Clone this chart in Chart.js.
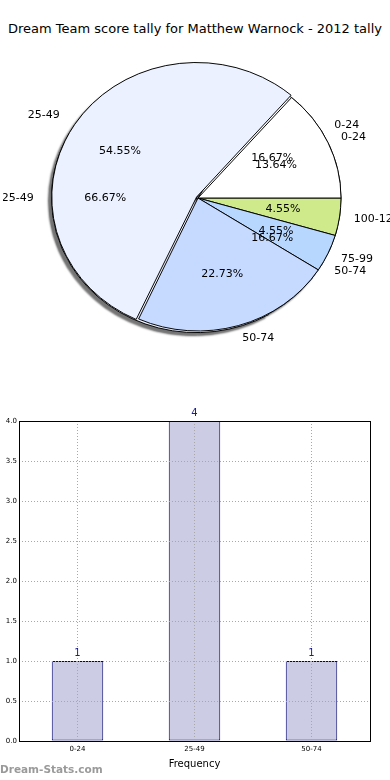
<!DOCTYPE html>
<html>
<head>
<meta charset="utf-8">
<script src="https://cdn.jsdelivr.net/npm/chart.js@4/dist/chart.umd.min.js"></script>
<style>
  body { margin: 0; background: #fff; }
  #wrap { position: relative; width: 390px; height: 780px; font-family: "DejaVu Sans", sans-serif; overflow: hidden; }
  #title { position: absolute; top: 21px; left: 0; width: 390px; text-align: center; font-size: 13px; color: #000; }
  canvas { position: absolute; left: 0; }
  #mark { position: absolute; left: 0; top: 763px; font-size: 10.5px; font-weight: bold; color: #9a9a9a; }
</style>
</head>
<body>
<div id="wrap">
  <div id="title">Dream Team score tally for Matthew Warnock - 2012 tally</div>
  <canvas id="pieBack" width="390" height="304" style="top:46px;left:3px"></canvas>
  <canvas id="pieFront" width="390" height="304" style="top:46px;left:3px"></canvas>
  <canvas id="bars" width="390" height="370" style="top:400px"></canvas>
  <div id="mark">Dream-Stats.com</div>
</div>
<script>
const FONT = '"DejaVu Sans", sans-serif';
const SQUASH = 0.93; // the reference pie is a bit wider than tall

// all scores for the season, grouped
const scoreBands = ['0-24', '25-49', '50-74', '75-99', '100-124'];
const scoreCounts = [3, 12, 5, 1, 1];
const scoreColors = ['#ffffff', '#ebf1ff', '#c6d9ff', '#b8d7ff', '#cfea8a'];
const scoreExplode = [0, 7, 0, 0, 0];

// 2012 tally
const tallyBands = ['0-24', '25-49', '50-74'];
const tallyCounts = [1, 4, 1];
const tallyColors = ['#ffffff', '#ebf1ff', '#c6d9ff'];
const tallyExplode = [0, 7, 0];

// bar chart
const barCategories = ['0-24', '25-49', '50-74'];
const frequency = [1, 4, 1];
const yTicks = [0, 0.5, 1, 1.5, 2, 2.5, 3, 3.5, 4];

// matplotlib goes counter-clockwise from 3 o'clock, chart.js clockwise -> reverse
const rev = a => a.slice().reverse();

function drawPieLabels(ctx, chart) {
  const meta = chart.getDatasetMeta(0);
  const ds = chart.data.datasets[0];
  const total = ds.data.reduce((a, b) => a + b, 0);
  ctx.save();
  ctx.font = '11px ' + FONT;
  ctx.fillStyle = '#000';
  ctx.textBaseline = 'middle';
  meta.data.forEach((arc, i) => {
    const mid = (arc.startAngle + arc.endAngle) / 2;
    const off = ds.offset[i] || 0;
    const r = arc.outerRadius;
    const px = k => arc.x + Math.cos(mid) * (off + r * k);
    const py = k => arc.y + Math.sin(mid) * (off + r * k) * SQUASH;
    ctx.textAlign = Math.cos(mid) >= 0 ? 'left' : 'right';
    ctx.fillText(chart.data.labels[i], px(1.1), py(1.1));
    ctx.textAlign = 'center';
    ctx.fillText((ds.data[i] / total * 100).toFixed(2) + '%', px(0.6), py(0.6));
  });
  ctx.restore();
}

function squashFor(withShadow) {
  return {
    id: 'squash',
    beforeDatasetsDraw(chart) {
      const c = chart.ctx;
      const arc = chart.getDatasetMeta(0).data[0];
      c.save();
      c.translate(arc.x, arc.y);
      c.scale(1, SQUASH);
      c.translate(-arc.x, -arc.y);
      if (withShadow) {
        c.shadowColor = 'rgba(0,0,0,0.55)';
        c.shadowOffsetX = -3;
        c.shadowOffsetY = 3;
        c.shadowBlur = 2;
      }
    },
    afterDatasetsDraw(chart) {
      chart.ctx.restore();
    }
  };
}

const pieOptions = {
  responsive: false,
  animation: false,
  events: [],
  rotation: 90,
  layout: { padding: { top: 5, bottom: 5 } },
  plugins: { legend: { display: false }, tooltip: { enabled: false } }
};

const backChart = new Chart(document.getElementById('pieBack'), {
  type: 'pie',
  data: {
    labels: rev(tallyBands),
    datasets: [{
      data: rev(tallyCounts),
      backgroundColor: rev(tallyColors),
      offset: rev(tallyExplode),
      borderColor: '#000',
      borderWidth: 1
    }]
  },
  options: pieOptions,
  plugins: [squashFor(true)]
});

new Chart(document.getElementById('pieFront'), {
  type: 'pie',
  data: {
    labels: rev(scoreBands),
    datasets: [{
      data: rev(scoreCounts),
      backgroundColor: rev(scoreColors),
      offset: rev(scoreExplode),
      borderColor: '#000',
      borderWidth: 1
    }]
  },
  options: pieOptions,
  plugins: [squashFor(false), {
    id: 'labels',
    afterDraw(chart) {
      drawPieLabels(chart.ctx, chart);
      drawPieLabels(chart.ctx, backChart);
    }
  }]
});

const frame = {
  id: 'frame',
  afterDraw(chart) {
    const { ctx, chartArea: a } = chart;
    ctx.save();
    ctx.strokeStyle = '#000';
    ctx.lineWidth = 1;
    ctx.strokeRect(Math.round(a.left) + 0.5, Math.round(a.top) + 0.5, Math.round(a.right - a.left), Math.round(a.bottom - a.top));
    // value labels
    const meta = chart.getDatasetMeta(0);
    ctx.fillStyle = '#1a1a9a';
    ctx.font = '10px ' + FONT;
    ctx.textAlign = 'center';
    ctx.textBaseline = 'bottom';
    meta.data.forEach((bar, i) => {
      ctx.fillText(String(frequency[i]), bar.x, bar.y - 3);
    });
    ctx.restore();
  }
};

const gridStyle = { color: '#a8a8a8', drawTicks: false, z: 1 };

new Chart(document.getElementById('bars'), {
  type: 'bar',
  data: {
    labels: barCategories,
    datasets: [{
      data: frequency,
      backgroundColor: '#ccccE5',
      borderColor: '#00006e',
      borderWidth: 1,
      borderSkipped: false,
      barPercentage: 0.44,
      categoryPercentage: 1
    }]
  },
  options: {
    responsive: false,
    animation: false,
    events: [],
    layout: { padding: { top: 21, right: 20, left: 0, bottom: 0 } },
    plugins: { legend: { display: false }, tooltip: { enabled: false } },
    scales: {
      x: {
        grid: Object.assign({ offset: false }, gridStyle),
        border: { display: false, dash: [1, 2] },
        ticks: { font: { size: 7, family: FONT }, color: '#000', padding: 4 },
        title: { display: true, text: 'Frequency', font: { size: 10, family: FONT }, color: '#000', padding: 0 },
        afterFit(s) { s.height = 29; }
      },
      y: {
        min: 0,
        max: 4,
        afterBuildTicks(s) { s.ticks = yTicks.map(v => ({ value: v })); },
        grid: gridStyle,
        border: { display: false, dash: [1, 2] },
        ticks: { font: { size: 7, family: FONT }, color: '#000', padding: 2, callback: v => v.toFixed(1) },
        afterFit(s) { s.width = 19; }
      }
    }
  },
  plugins: [frame]
});
</script>
</body>
</html>
